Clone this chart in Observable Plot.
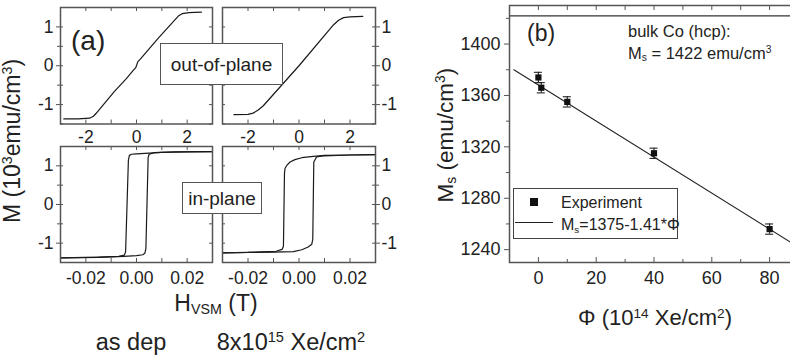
<!DOCTYPE html>
<html>
<head>
<meta charset="utf-8">
<script src="https://cdn.jsdelivr.net/npm/d3@7"></script>
<script src="https://cdn.jsdelivr.net/npm/@observablehq/plot@0.6"></script>
<style>
  html, body { margin: 0; padding: 0; background: #fff; overflow: hidden; }
  #fig { position: relative; width: 790px; height: 358px; overflow: hidden; background: #fff;
         font-family: "Liberation Sans", Arial, Helvetica, sans-serif; color: #222; }
  .abs { position: absolute; white-space: nowrap; line-height: 1; }
  .sup { font-size: 0.62em; position: relative; top: -0.55em; }
  .sub { font-size: 0.62em; position: relative; top: 0.25em; }
  .box { position: absolute; background: #fff; border: 1.5px solid #555; box-sizing: border-box;
         display: flex; align-items: center; justify-content: center; line-height: 1; }
  svg { overflow: visible; }
</style>
</head>
<body>
<div id="fig"></div>
<script>
// ---------------- DATA ----------------
// Panel (a): out-of-plane loops, H in T, M in 10^3 emu/cm^3
const outAsDep = [[-2.87,-1.37],[-2.3,-1.37],[-1.85,-1.35],[-1.7,-1.30],[-1.6,-1.23],[-0.87,-0.66],[-0.4,-0.33],[-0.13,-0.12],[-0.03,-0.05],[0.05,0.10],[0.15,0.17],[0.87,0.72],[1.65,1.28],[1.8,1.34],[2.07,1.37],[2.56,1.38]];
const out8e15 = [[-2.55,-1.26],[-2.0,-1.25],[-1.8,-1.22],[-1.6,-1.14],[-1.4,-1.03],[0,0.0],[1.35,1.05],[1.55,1.17],[1.75,1.24],[2.0,1.26],[2.5,1.27]];
// Panel (a): in-plane loops (descending and ascending branches)
const inAsDepDown = [[0.03,1.37],[0.02,1.36],[0.01,1.35],[0.005,1.33],[0.0,1.31],[-0.002,1.30],[-0.0028,1.27],[-0.0032,1.15],[-0.0043,-1.22],[-0.0048,-1.31],[-0.007,-1.34],[-0.015,-1.36],[-0.03,-1.38]];
const inAsDepUp = [[-0.03,-1.38],[-0.015,-1.37],[-0.005,-1.34],[0.0,-1.32],[0.0025,-1.30],[0.0033,-1.26],[0.0037,-1.15],[0.0046,1.22],[0.005,1.30],[0.007,1.34],[0.015,1.36],[0.03,1.37]];
const in8e15Down = [[0.03,1.29],[0.02,1.28],[0.01,1.27],[0.0056,1.245],[0.0011,1.21],[-0.0016,1.16],[-0.0035,1.10],[-0.0048,1.01],[-0.0055,0.93],[-0.0057,0.80],[-0.0061,-1.08],[-0.0066,-1.16],[-0.009,-1.21],[-0.02,-1.24],[-0.03,-1.25]];
const in8e15Up = [[-0.03,-1.25],[-0.02,-1.24],[-0.01,-1.23],[-0.0022,-1.22],[0.0011,-1.17],[0.0036,-1.10],[0.005,-1.03],[0.0054,-0.90],[0.0058,1.10],[0.0069,1.23],[0.01,1.26],[0.02,1.28],[0.03,1.29]];
// Panel (a) ticks
const mTicks = [-1, 0, 1];
const mMinorTicks = [-0.5, 0.5];
const mAllTicks = [-1.5, -1, -0.5, 0, 0.5, 1, 1.5];
const hOutTicks = [-2, 0, 2];
const hOutAllTicks = [-3, -2, -1, 0, 1, 2, 3];
const hInTicks = [-0.02, 0.00, 0.02];
const hInAllTicks = [-0.03, -0.02, -0.01, 0, 0.01, 0.02, 0.03];

// Panel (b): saturation magnetisation vs fluence
const fluence = [0, 1, 10, 40, 80];
const msValues = [1374, 1366, 1355, 1315, 1256];
const msErrors = [4, 4, 4, 4, 4];
const fitPhi = [-8.5, 90];
const fitMs = [1380, 1242];
const bulkMs = 1422;
const msTicks = [1240, 1280, 1320, 1360, 1400];
const msMinorTicks = [1260, 1300, 1340, 1380, 1420];
const phiTicks = [0, 20, 40, 60, 80];
const phiMinorTicks = [-10, 10, 30, 50, 70, 90];
const phiAllTicks = [-10, 0, 10, 20, 30, 40, 50, 60, 70, 80, 90];

// ---------------- DRAWING ----------------
const fig = document.getElementById("fig");
const frameColor = "#555";
const fontFam = '"Liberation Sans", Arial, Helvetica, sans-serif';
const hyph = d => (d < 0 ? "-" : "") + Math.abs(d);

function place(node, left, top) {
  node.style.position = "absolute";
  node.style.left = left + "px";
  node.style.top = top + "px";
  fig.appendChild(node);
}

function panelA({left, right, top, bottom, xDomain, xAll, xLabels, xFmt, side, series, labelPad}) {
  const W = right - left, H = bottom - top;
  const mL = side === "left" ? 48 : 4, mR = side === "right" ? 30 : 4, mT = 4, mB = 30;
  const plot = Plot.plot({
    width: mL + W + mR, height: mT + H + mB,
    marginLeft: mL, marginRight: mR, marginTop: mT, marginBottom: mB,
    x: {domain: xDomain, axis: null},
    y: {domain: [-1.5, 1.5], axis: null},
    style: {fontFamily: fontFam, fontSize: "17px", color: "#222", background: "transparent"},
    marks: [
      ...series.map(s => Plot.line(s, {x: d => d[0], y: d => d[1], stroke: "#1a1a1a", strokeWidth: 1.2})),
      Plot.tickX(xAll, {x: d => d, insetBottom: H - 4, stroke: frameColor}),
      Plot.tickX(xAll, {x: d => d, insetTop: H - 4, stroke: frameColor}),
      Plot.tickY(mAllTicks, {y: d => d, insetRight: W - 3, stroke: frameColor}),
      Plot.tickY(mAllTicks, {y: d => d, insetLeft: W - 3, stroke: frameColor}),
      Plot.axisY({anchor: side, ticks: mTicks, tickSize: 4, tickPadding: side === "left" ? 3 : 2, tickFormat: hyph, fontSize: 17.5, stroke: frameColor, label: null}),
      Plot.axisY({anchor: side, ticks: mMinorTicks, tickSize: 3, tickFormat: () => "", stroke: frameColor, label: null}),
      Plot.axisX({anchor: "bottom", ticks: xLabels, tickSize: 0, tickPadding: labelPad, tickFormat: xFmt, fontSize: 17.5, label: null}),
      Plot.frame({stroke: frameColor, strokeWidth: 1.5})
    ]
  });
  place(plot, left - mL, top - mT);
}

const fmtOut = d => hyph(d);
const fmtIn = d => (d < 0 ? "-" : "") + Math.abs(d).toFixed(2);

panelA({left: 60, right: 212, top: 6.5, bottom: 123, xDomain: [-3, 3], xAll: hOutAllTicks, xLabels: hOutTicks, xFmt: fmtOut, side: "left", series: [outAsDep], labelPad: 7});
panelA({left: 222, right: 375, top: 6.5, bottom: 123, xDomain: [-3, 3], xAll: hOutAllTicks, xLabels: hOutTicks, xFmt: fmtOut, side: "right", series: [out8e15], labelPad: 7});
panelA({left: 60, right: 212, top: 146, bottom: 262, xDomain: [-0.03, 0.03], xAll: hInAllTicks, xLabels: hInTicks, xFmt: fmtIn, side: "left", series: [inAsDepDown, inAsDepUp], labelPad: 9});
panelA({left: 222, right: 375, top: 146, bottom: 262, xDomain: [-0.03, 0.03], xAll: hInAllTicks, xLabels: hInTicks, xFmt: fmtIn, side: "right", series: [in8e15Down, in8e15Up], labelPad: 9});

// Panel (b)
const points = fluence.map((phi, i) => ({phi, ms: msValues[i], err: msErrors[i]}));
const fit = fitPhi.map((phi, i) => ({phi, ms: fitMs[i]}));
{
  const left = 509, right = 798, top = 5, bottom = 262;
  const W = right - left, H = bottom - top;
  const mL = 62, mR = 10, mT = 5, mB = 40;
  const plot = Plot.plot({
    width: mL + W + mR, height: mT + H + mB,
    marginLeft: mL, marginRight: mR, marginTop: mT, marginBottom: mB,
    x: {domain: [-10, 90], axis: null},
    y: {domain: [1230, 1430], axis: null},
    style: {fontFamily: fontFam, fontSize: "18px", color: "#222", background: "transparent"},
    marks: [
      Plot.ruleY([bulkMs], {stroke: "#333", strokeWidth: 1.3}),
      Plot.line(fit, {x: "phi", y: "ms", stroke: "#222", strokeWidth: 1.1}),
      Plot.ruleX(points, {x: "phi", y1: d => d.ms - d.err, y2: d => d.ms + d.err, stroke: "#222", strokeWidth: 1.1}),
      Plot.ruleY(points, {y: d => d.ms + d.err, x1: "phi", x2: "phi", insetLeft: -4, insetRight: -4, stroke: "#222", strokeWidth: 1.1}),
      Plot.ruleY(points, {y: d => d.ms - d.err, x1: "phi", x2: "phi", insetLeft: -4, insetRight: -4, stroke: "#222", strokeWidth: 1.1}),
      Plot.dot(points, {x: "phi", y: "ms", symbol: "square", r: 3.5, fill: "#111", stroke: "none"}),
      Plot.tickX(phiTicks, {x: d => d, insetTop: H - 5, stroke: frameColor}),
      Plot.tickX(phiMinorTicks, {x: d => d, insetTop: H - 3, stroke: frameColor}),
      Plot.tickX(phiAllTicks, {x: d => d, insetBottom: H - 5, stroke: frameColor}),
      Plot.axisY({anchor: "left", ticks: msTicks, tickSize: 5, tickPadding: 4, tickFormat: d => String(d), fontSize: 18, stroke: frameColor, label: null}),
      Plot.axisY({anchor: "left", ticks: msMinorTicks, tickSize: 3, tickFormat: () => "", stroke: frameColor, label: null}),
      Plot.axisX({anchor: "bottom", ticks: phiTicks, tickSize: 0, tickPadding: 9, tickFormat: d => String(d), fontSize: 18, label: null}),
      Plot.frame({stroke: frameColor, strokeWidth: 1.5})
    ]
  });
  place(plot, left - mL, top - mT);
}

// ---------------- TEXT ----------------
function text(html, x, y, fs, anchor = "start") {
  const d = document.createElement("div");
  d.className = "abs";
  d.innerHTML = html;
  d.style.fontSize = fs + "px";
  d.style.left = x + "px";
  d.style.top = (y - 0.49 * fs) + "px";
  if (anchor === "middle") d.style.transform = "translateX(-50%)";
  fig.appendChild(d);
  return d;
}
function vtext(html, cx, cy, fs) {
  const d = document.createElement("div");
  d.className = "abs";
  d.innerHTML = html;
  d.style.fontSize = fs + "px";
  d.style.left = cx + "px";
  d.style.top = cy + "px";
  d.style.transform = "translate(-50%, -50%) rotate(-90deg)";
  fig.appendChild(d);
}
function box(label, x, y, w, h, fs) {
  const d = document.createElement("div");
  d.className = "box";
  d.textContent = label;
  d.style.left = x + "px"; d.style.top = y + "px";
  d.style.width = w + "px"; d.style.height = h + "px";
  d.style.fontSize = fs + "px";
  fig.appendChild(d);
}

text("(a)", 71, 41, 28);
box("out-of-plane", 160, 43, 123, 42, 19);
box("in-plane", 182, 182, 80, 32, 19);
vtext('M (10<span class="sup">3</span>emu/cm<span class="sup">3</span>)', 12, 141, 23);
text('H<span class="sub">VSM</span> (T)', 216, 303, 23, "middle");
text("as dep", 131, 343, 23.5, "middle");
text('8x10<span class="sup">15</span> Xe/cm<span class="sup">2</span>', 291, 343, 23.5, "middle");

text("(b)", 527, 33, 23);
text("bulk Co (hcp):", 628, 31, 16.5);
text('M<span class="sub">s</span> = 1422 emu/cm<span class="sup">3</span>', 628, 53, 16.5);
vtext('M<span class="sub">s</span> (emu/cm<span class="sup">3</span>)', 446, 135, 22.5);
text('Φ (10<span class="sup">14</span> Xe/cm<span class="sup">2</span>)', 655, 318, 22, "middle");

// Legend of (b)
{
  const lg = document.createElement("div");
  lg.style.cssText = "position:absolute;left:513px;top:188px;width:165px;height:51px;border:1.3px solid #444;box-sizing:border-box;background:#fff;";
  fig.appendChild(lg);
  const sq = document.createElement("div");
  sq.style.cssText = "position:absolute;left:530px;top:198px;width:8px;height:8px;background:#111;";
  fig.appendChild(sq);
  const ln = document.createElement("div");
  ln.style.cssText = "position:absolute;left:515px;top:221.5px;width:38px;height:0;border-top:1.1px solid #222;";
  fig.appendChild(ln);
  text("Experiment", 561, 202.5, 16);
  text('M<span class="sub">s</span>=1375-1.41*Φ', 561, 225, 16);
}
</script>
</body>
</html>
